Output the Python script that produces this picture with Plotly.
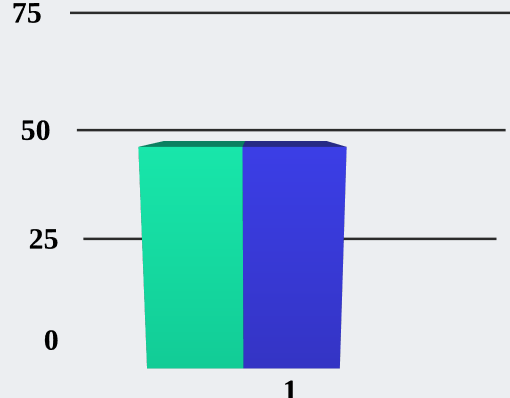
import plotly.graph_objects as go

# chart data
categories = ["1"]
series_names = ["Series A", "Series B"]
series_values = [47, 47]
series_front_hi = ["#18e6aa", "#3b3ee6"]
series_front_lo = ["#12cc96", "#3434c4"]
series_top = ["#0b8060", "#262a85"]
series_side = ["#0a5a44", "#1c1f60"]
tick_values = [0, 25, 50, 75]
grid_values = [25, 50, 75]

BAR_W = 1.0
BAR_D = 1.1
GRID_Y = 0.55
GRID_X = (-0.82, 3.85)
LABEL_X = -1.27


def box(x0, value, n, name):
    """Build one bar as a mesh whose faces carry their own vertex colours."""
    x1 = x0 + BAR_W
    y0, y1 = 0.0, BAR_D
    hi, lo = series_front_hi[n], series_front_lo[n]
    top, side = series_top[n], series_side[n]
    faces = [
        # front face, lighter at the top
        ([(x0, y0, 0), (x1, y0, 0), (x1, y0, value), (x0, y0, value)], [lo, lo, hi, hi]),
        # top face
        ([(x0, y0, value), (x1, y0, value), (x1, y1, value), (x0, y1, value)], [top] * 4),
        # left and right faces
        ([(x0, y0, 0), (x0, y1, 0), (x0, y1, value), (x0, y0, value)], [side] * 4),
        ([(x1, y0, 0), (x1, y1, 0), (x1, y1, value), (x1, y0, value)], [side] * 4),
        # back and bottom faces
        ([(x0, y1, 0), (x1, y1, 0), (x1, y1, value), (x0, y1, value)], [side] * 4),
        ([(x0, y0, 0), (x1, y0, 0), (x1, y1, 0), (x0, y1, 0)], [side] * 4),
    ]
    xs, ys, zs, cols, ii, jj, kk = [], [], [], [], [], [], []
    for verts, colours in faces:
        b = len(xs)
        for (vx, vy, vz), c in zip(verts, colours):
            xs.append(vx)
            ys.append(vy)
            zs.append(vz)
            cols.append(c)
        ii += [b, b]
        jj += [b + 1, b + 2]
        kk += [b + 2, b + 3]
    return go.Mesh3d(
        x=xs, y=ys, z=zs, i=ii, j=jj, k=kk, vertexcolor=cols,
        name=name, showscale=False,
        lighting=dict(ambient=1.0, diffuse=0.0, specular=0.0, roughness=1.0, fresnel=0.0),
        hoverinfo="name",
    )


fig = go.Figure()

# horizontal grid lines, running behind the bar fronts
for g in grid_values:
    fig.add_trace(go.Scatter3d(
        x=list(GRID_X), y=[GRID_Y, GRID_Y], z=[g, g], mode="lines",
        line=dict(color="#2b2b2b", width=5), showlegend=False, hoverinfo="skip",
    ))

# bars
for n, (name, v) in enumerate(zip(series_names, series_values)):
    fig.add_trace(box(n * BAR_W, v, n, name))

# value axis labels
fig.add_trace(go.Scatter3d(
    x=[LABEL_X] * len(tick_values), y=[GRID_Y] * len(tick_values), z=tick_values,
    mode="text", text=[str(t) for t in tick_values], textposition="middle center",
    textfont=dict(family="Liberation Serif", size=30, color="#000000", weight="bold"),
    showlegend=False, hoverinfo="skip",
))

# category label
fig.add_trace(go.Scatter3d(
    x=[BAR_W * 1.49], y=[0.0], z=[-5.0], mode="text", text=categories,
    textposition="middle center",
    textfont=dict(family="Liberation Serif", size=30, color="#000000", weight="bold"),
    showlegend=False, hoverinfo="skip",
))

axis_off = dict(visible=False, showgrid=False, zeroline=False, showbackground=False)
fig.update_layout(
    width=510, height=398,
    margin=dict(l=0, r=0, t=0, b=0),
    paper_bgcolor="#eceef1",
    showlegend=False,
    scene=dict(
        xaxis=dict(axis_off, range=[-2.18, 4.42]),
        yaxis=dict(axis_off, range=[-0.2, 1.8]),
        zaxis=dict(axis_off, range=[-10, 80]),
        aspectmode="manual",
        aspectratio=dict(x=2.5, y=0.9, z=1.66),
        camera=dict(
            eye=dict(x=0.0, y=-2.115, z=0.317),
            center=dict(x=0.0, y=0.0, z=-0.03),
            up=dict(x=0, y=0, z=1),
            projection=dict(type="perspective"),
        ),
        bgcolor="#eceef1",
    ),
)

fig.write_html("out.html")
